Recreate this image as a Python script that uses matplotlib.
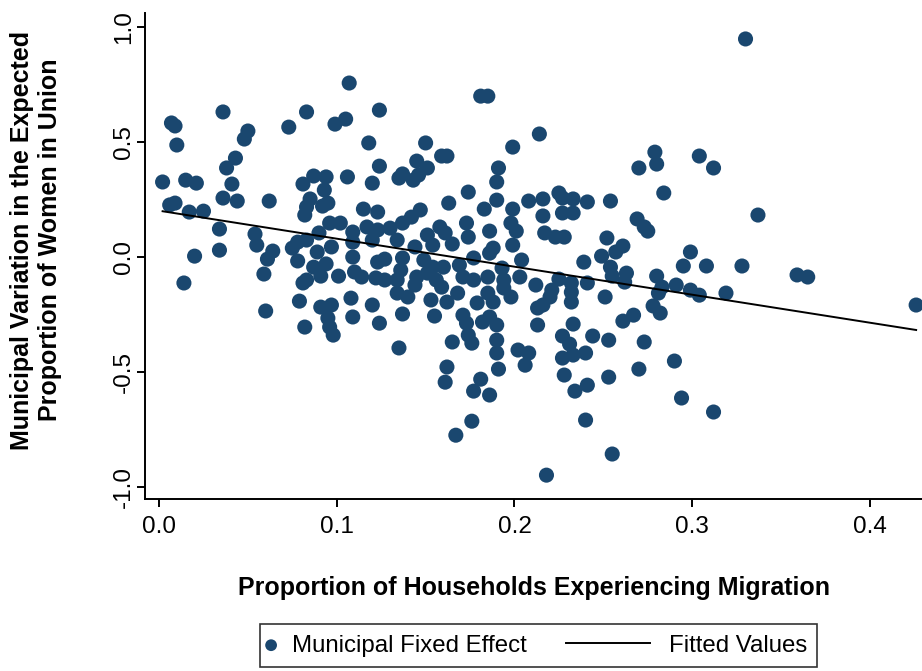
import numpy as np
import matplotlib.pyplot as plt
from matplotlib.legend_handler import HandlerLine2D

plt.rcParams['font.family'] = ['Liberation Sans', 'DejaVu Sans']

# proportion of households with a migrant (x) and municipal fixed effect (y)
migration = [
    0.036, 0.007, 0.009, 0.010, 0.050, 0.048, 0.043, 0.038, 0.073, 0.083, 0.099,
    0.107, 0.181, 0.185, 0.124, 0.105, 0.118, 0.150, 0.199, 0.159, 0.162, 0.145,
    0.124, 0.151, 0.191, 0.106, 0.120, 0.135, 0.137, 0.143, 0.146, 0.190,
    0.214, 0.279, 0.280, 0.270, 0.304, 0.312, 0.330,
    0.002, 0.015, 0.021, 0.041, 0.036, 0.044, 0.006, 0.009, 0.017, 0.025, 0.062,
    0.034, 0.054, 0.055, 0.034, 0.020, 0.064, 0.061, 0.059, 0.014, 0.060, 0.079,
    0.081, 0.087, 0.094, 0.093, 0.085, 0.083, 0.082, 0.092, 0.095, 0.096,
    0.102, 0.090, 0.083, 0.075, 0.078, 0.089, 0.097, 0.078, 0.087, 0.094,
    0.091, 0.083, 0.081, 0.101, 0.091, 0.097, 0.095, 0.082, 0.096, 0.098,
    0.115, 0.123, 0.147, 0.163, 0.174, 0.190, 0.199, 0.208, 0.183,
    0.109, 0.117, 0.123, 0.130, 0.137, 0.142, 0.151, 0.158, 0.161, 0.173, 0.174,
    0.186, 0.198, 0.201,
    0.109, 0.120, 0.134, 0.144, 0.154, 0.165, 0.188, 0.199, 0.186,
    0.109, 0.123, 0.127, 0.137, 0.149, 0.154, 0.160, 0.169, 0.177, 0.193, 0.204,
    0.110, 0.114, 0.122, 0.127, 0.134, 0.136, 0.145, 0.151, 0.156, 0.171, 0.177,
    0.185, 0.194, 0.203,
    0.108, 0.120, 0.134, 0.140, 0.144, 0.153, 0.159, 0.162, 0.168, 0.179, 0.185,
    0.188, 0.198, 0.194,
    0.109, 0.124, 0.137, 0.155, 0.171, 0.173, 0.186, 0.190,
    0.135, 0.165, 0.174, 0.176, 0.182, 0.190, 0.190, 0.191, 0.202, 0.206, 0.162,
    0.161, 0.181, 0.177, 0.186, 0.176, 0.167,
    0.216, 0.225, 0.227, 0.233, 0.241, 0.254, 0.284,
    0.216, 0.227, 0.233, 0.269, 0.273, 0.275,
    0.217, 0.223, 0.228, 0.252, 0.257, 0.261, 0.249,
    0.299, 0.295, 0.308,
    0.239, 0.254, 0.255,
    0.212, 0.225, 0.232, 0.241, 0.263, 0.262, 0.280, 0.283, 0.291, 0.299, 0.304, 0.281,
    0.221, 0.220, 0.232, 0.232, 0.251, 0.216, 0.213,
    0.278, 0.282, 0.267, 0.261, 0.213, 0.233,
    0.227, 0.231, 0.244, 0.253, 0.273, 0.208, 0.227, 0.233, 0.240, 0.228, 0.241,
    0.234, 0.253, 0.270, 0.290, 0.294, 0.312, 0.240, 0.255, 0.218,
    0.337, 0.328, 0.319, 0.359, 0.365, 0.426,
]
fixed_effect = [
    0.632, 0.584, 0.571, 0.488, 0.549, 0.514, 0.431, 0.388, 0.566, 0.632, 0.579,
    0.758, 0.701, 0.701, 0.640, 0.601, 0.497, 0.497, 0.479, 0.440, 0.440, 0.418,
    0.396, 0.388, 0.388, 0.349, 0.322, 0.344, 0.362, 0.335, 0.357, 0.327,
    0.536, 0.457, 0.405, 0.388, 0.440, 0.388, 0.950,
    0.327, 0.335, 0.322, 0.318, 0.257, 0.244, 0.227, 0.235, 0.196, 0.200, 0.244,
    0.122, 0.100, 0.052, 0.030, 0.004, 0.026, -0.009, -0.074, -0.113, -0.235, -0.192,
    0.318, 0.353, 0.349, 0.292, 0.253, 0.218, 0.183, 0.222, 0.235, 0.148,
    0.148, 0.105, 0.074, 0.039, 0.065, 0.022, 0.044, -0.017, -0.044, -0.030,
    -0.083, -0.100, -0.113, -0.083, -0.218, -0.209, -0.266, -0.305, -0.305, -0.340,
    0.209, 0.196, 0.205, 0.235, 0.283, 0.248, 0.209, 0.244, 0.209,
    0.109, 0.131, 0.118, 0.126, 0.148, 0.174, 0.096, 0.131, 0.105, 0.148, 0.087,
    0.113, 0.148, 0.113,
    0.065, 0.074, 0.074, 0.044, 0.052, 0.057, 0.039, 0.052, 0.017,
    0.000, -0.022, -0.009, -0.004, -0.013, -0.044, -0.044, -0.035, -0.004, -0.048, -0.013,
    -0.065, -0.087, -0.091, -0.100, -0.100, -0.057, -0.087, -0.070, -0.100, -0.087, -0.100,
    -0.087, -0.100, -0.087,
    -0.179, -0.209, -0.157, -0.174, -0.122, -0.187, -0.131, -0.196, -0.157, -0.200, -0.157,
    -0.196, -0.174, -0.135,
    -0.261, -0.288, -0.248, -0.257, -0.253, -0.288, -0.261, -0.296,
    -0.396, -0.370, -0.340, -0.375, -0.283, -0.362, -0.418, -0.488, -0.405, -0.471, -0.479,
    -0.545, -0.532, -0.584, -0.601, -0.715, -0.776,
    0.253, 0.279, 0.257, 0.253, 0.240, 0.244, 0.279,
    0.179, 0.192, 0.192, 0.166, 0.131, 0.113,
    0.105, 0.087, 0.087, 0.083, 0.022, 0.048, 0.004,
    0.022, -0.039, -0.039,
    -0.022, -0.044, -0.083,
    -0.122, -0.096, -0.113, -0.113, -0.070, -0.109, -0.083, -0.131, -0.122, -0.144, -0.166, -0.157,
    -0.144, -0.174, -0.153, -0.196, -0.174, -0.209, -0.222,
    -0.213, -0.244, -0.253, -0.279, -0.296, -0.292,
    -0.344, -0.379, -0.344, -0.362, -0.370, -0.418, -0.440, -0.427, -0.418, -0.514, -0.558,
    -0.584, -0.523, -0.488, -0.453, -0.614, -0.675, -0.710, -0.858, -0.950,
    0.183, -0.039, -0.157, -0.078, -0.087, -0.209,
]

# fitted line
fit_intercept = 0.202
fit_slope = -1.22

x_ticks = [0.0, 0.1, 0.2, 0.3, 0.4]
x_labels = ['0.0', '0.1', '0.2', '0.3', '0.4']
y_ticks = [-1.0, -0.5, 0.0, 0.5, 1.0]
y_labels = ['-1.0', '-0.5', '0.0', '0.5', '1.0']

navy = '#1a476f'


class WideLine(HandlerLine2D):
    # longer handle for the line entry only
    def legend_artist(self, legend, orig_handle, fontsize, handlebox):
        handlebox.width = 3.46 * fontsize
        return super().legend_artist(legend, orig_handle, fontsize, handlebox)


fig = plt.figure(figsize=(9.22, 6.71), dpi=100)
ax = fig.add_axes([0.1573, 0.2563, 0.8427, 0.7243])

ax.scatter(migration, fixed_effect, s=118, color=navy, edgecolors='none',
           label='Municipal Fixed Effect', zorder=2)
xf = np.array([min(migration), max(migration)])
fit_line, = ax.plot(xf, fit_intercept + fit_slope * xf, color='black', lw=1.4,
                    label='Fitted Values', zorder=3)

ax.set_xlim(-0.00788, 0.4293)
ax.set_ylim(-1.054, 1.063)
ax.set_xticks(x_ticks, x_labels)
ax.set_yticks(y_ticks, y_labels)
for lab in ax.get_yticklabels():
    lab.set_rotation(90)
    lab.set_va('center')
    lab.set_ha('right')

ax.spines['top'].set_visible(False)
ax.spines['right'].set_visible(False)
for s in ['left', 'bottom']:
    ax.spines[s].set_linewidth(1.4)
ax.tick_params(axis='both', direction='out', length=6, width=1.4, labelsize=17.5)
ax.tick_params(axis='x', pad=6)
ax.tick_params(axis='y', pad=1)

fig.text(0.5787, 0.124, 'Proportion of Households Experiencing Migration',
         fontsize=18, fontweight='bold', ha='center', va='center')
fig.text(0.039, 0.642, 'Municipal Variation in the Expected\nProportion of Women in Union',
         fontsize=18, fontweight='bold', ha='center', va='center', rotation=90,
         multialignment='center', linespacing=1.2)

leg = fig.legend(loc='center', bbox_to_anchor=(0.584, 0.038), ncol=2,
                 fontsize=17.3, frameon=True, fancybox=False, edgecolor='black',
                 handlelength=0.1, handletextpad=0.8, columnspacing=1.67,
                 borderpad=0.42, markerscale=0.78, scatterpoints=1,
                 handler_map={fit_line: WideLine()})
leg.get_frame().set_linewidth(1.2)

fig.savefig('out.png', dpi=100)
